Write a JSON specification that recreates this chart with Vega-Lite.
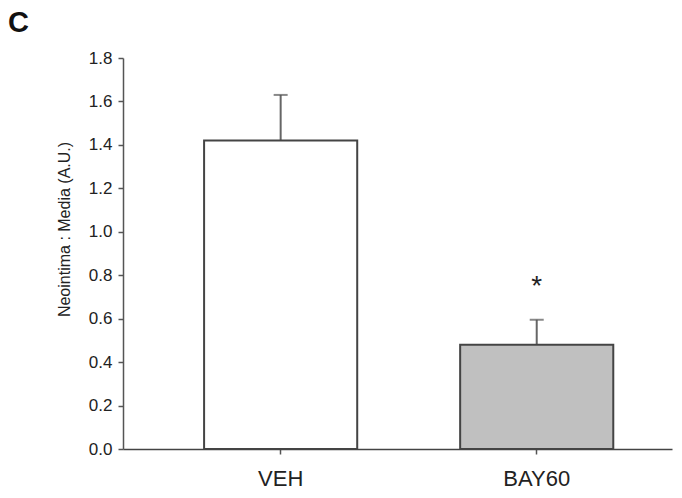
{
  "$schema": "https://vega.github.io/schema/vega-lite/v6.json",
  "width": 549,
  "height": 391,
  "autosize": "none",
  "padding": {"left": 123, "top": 58, "right": 10, "bottom": 49},
  "background": "white",
  "title": {"text": "C", "anchor": "start", "frame": "group", "dx": -115, "dy": -6, "fontSize": 29, "font": "Liberation Sans", "fontWeight": "bold", "color": "#111"},
  "config": {"view": {"stroke": null}, "font": "Liberation Sans"},
  "data": {"values": [
    {"group": "VEH", "mean": 1.42, "upper": 1.63, "sig": "", "fill": "VEH"},
    {"group": "BAY60", "mean": 0.48, "upper": 0.595, "sig": "*", "fill": "BAY60"}
  ]},
  "encoding": {
    "x": {"field": "group", "type": "nominal", "sort": ["VEH", "BAY60"],
      "scale": {"paddingInner": 0.402, "paddingOuter": 0.273, "align": 0.58},
      "axis": {"title": null, "labelAngle": 0, "labelFontSize": 22, "labelColor": "#222", "labelPadding": 14, "domainColor": "#444", "domainWidth": 1.5, "tickColor": "#555", "tickSize": 5, "tickWidth": 1.5, "tickBand": "center"}}
  },
  "layer": [
    {
      "mark": {"type": "rule", "color": "#666", "strokeWidth": 2},
      "encoding": {"y": {"field": "mean", "type": "quantitative"}, "y2": {"field": "upper"}}
    },
    {
      "mark": {"type": "tick", "color": "#555", "thickness": 2, "size": 14, "orient": "horizontal"},
      "encoding": {"y": {"field": "upper", "type": "quantitative"}}
    },
    {
      "mark": {"type": "bar", "stroke": "#444", "strokeWidth": 2},
      "encoding": {
        "y": {"field": "mean", "type": "quantitative",
          "scale": {"domain": [0, 1.8], "nice": false, "zero": true},
          "axis": {"title": "Neointima : Media (A.U.)", "titleFontSize": 16, "titleFontWeight": "normal", "titleColor": "#222", "titleX": -59, "titleY": 171, "titleAlign": "center", "titleBaseline": "middle", "titleAngle": -90, "values": [0, 0.2, 0.4, 0.6, 0.8, 1.0, 1.2, 1.4, 1.6, 1.8], "format": ".1f", "labelFontSize": 17, "labelColor": "#222", "labelPadding": 6, "domainColor": "#555", "domainWidth": 1.5, "tickColor": "#555", "tickSize": 5, "tickWidth": 1.5, "grid": false}},
        "fill": {"field": "fill", "type": "nominal", "scale": {"domain": ["VEH", "BAY60"], "range": ["#ffffff", "#c0c0c0"]}, "legend": null}
      }
    },
    {
      "mark": {"type": "text", "fontSize": 28, "color": "#222", "baseline": "middle", "dy": -33},
      "encoding": {"y": {"field": "upper", "type": "quantitative"}, "text": {"field": "sig"}}
    }
  ]
}
